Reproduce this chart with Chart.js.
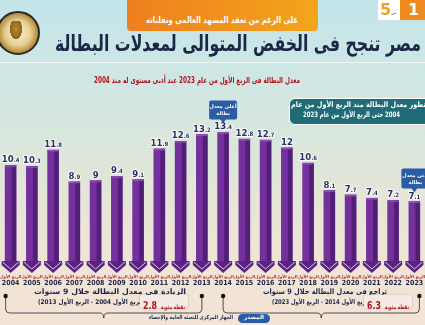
<!DOCTYPE html>
<html>
<head>
<meta charset="utf-8">
<script src="https://cdn.jsdelivr.net/npm/chart.js@4.4.1/dist/chart.umd.min.js"></script>
<style>
  body { margin: 0; }
  #page {
    position: relative; width: 425px; height: 325px; overflow: hidden;
    background: linear-gradient(to bottom, #c2e5ea 0%, #cfe7e4 25%, #dde6d9 50%, #ede5d6 75%, #f4e3d5 100%);
    font-family: "DejaVu Sans", sans-serif;
  }
  #wrap { position: absolute; left: 0; top: 0; width: 425px; height: 325px; }
  .ov { position: absolute; direction: rtl; white-space: nowrap; pointer-events: none; }
  .fit { position: absolute; direction: rtl; white-space: nowrap; pointer-events: none; transform-origin: 0 0; font-weight: bold; }
</style>
</head>
<body>
<div id="page">
  <div id="wrap"><canvas id="unemploymentChart"></canvas></div>

  <!-- header -->
  <div class="ov" style="left:127px;top:0;width:191px;height:31px;background:linear-gradient(to right,#ee7f1e,#f3a51c);border-radius:0 0 4px 4px;"></div>
  <div class="fit" data-w="152" style="left:146px;top:15px;color:#fff;font-size:9px;">على الرغم من تعقد المشهد العالمى وتقلباته</div>
  <div class="ov" style="left:378px;top:0;width:22px;height:20px;background:#fff;"></div>
  <div class="ov" style="left:380px;top:0;color:#f0a21c;font-weight:bold;font-size:16px;direction:ltr;">5</div>
  <div class="ov" style="left:391px;top:10px;color:#444;font-size:4px;">من</div>
  <div class="ov" style="left:400px;top:0;width:25px;height:20px;background:#ef8a1f;"></div>
  <div class="ov" style="left:408px;top:0;color:#fff;font-weight:bold;font-size:16px;direction:ltr;">1</div>
  <div class="ov" style="left:-4px;top:11px;width:40px;height:40px;border-radius:50%;border:2px solid #2b2b2b;background:radial-gradient(circle,#f7eed6 0%,#e6cf92 45%,#b28a3c 70%,#3a3a3a 72%,#3a3a3a 100%);"></div>
  <div class="ov" style="left:9px;top:21px;width:14px;height:20px;background:radial-gradient(ellipse at 50% 40%,#b88a2e 0%,#8a6420 60%,rgba(0,0,0,0) 62%);"></div>

  <div class="fit" data-w="366" style="left:55px;top:31px;color:#1b2747;font-size:22px;">مصر تنجح فى الخفض المتوالى لمعدلات البطالة</div>
  <div class="ov" style="left:0;top:62px;width:425px;height:1px;background:rgba(255,255,255,0.7);"></div>
  <div class="fit" data-w="206" style="left:94px;top:75px;color:#b3141c;font-size:8.5px;">معدل البطالة فى الربع الأول من عام 2023 عند أدنى مستوى له منذ 2004</div>

  <!-- info box -->
  <div class="ov" style="left:289px;top:98px;width:145px;height:25px;background:#1f6b76;border:1.5px solid #fff;border-radius:6px;"></div>
  <div class="fit" data-w="135" style="left:291px;top:100px;color:#fff;font-size:7.5px;">تطور معدل البطالة منذ الربع الأول من عام</div>
  <div class="fit" data-w="97" style="left:303px;top:110px;color:#fff;font-size:7.5px;">2004 حتى الربع الأول من عام 2023</div>

  <!-- bottom notes -->
  <div class="fit" data-w="152" style="left:34px;top:287px;color:#1b2747;font-size:7.5px;">الزيادة فى معدل البطالة خلال 9 سنوات</div>
  <div class="fit" data-w="108" style="left:38px;top:298px;color:#1b2747;font-size:6.5px;">(الربع الأول 2004 - الربع الأول 2013)</div>
  <div class="ov" style="left:140px;top:295px;width:48px;height:13px;background:#f5ebe4;border-radius:2px;box-shadow:0 0 2px rgba(0,0,0,0.25);"></div>
  <div class="fit" data-w="42" style="left:143px;top:294px;color:#b3141c;"><span style="font-size:6px">نقطة مئوية</span> <span style="font-size:11px">2.8</span></div>

  <div class="fit" data-w="124" style="left:263px;top:287px;color:#1b2747;font-size:7.5px;">تراجع فى معدل البطالة خلال 9 سنوات</div>
  <div class="fit" data-w="100" style="left:272px;top:298px;color:#1b2747;font-size:6.5px;">(الربع الأول 2014 - الربع الأول 2023)</div>
  <div class="ov" style="left:364px;top:295px;width:48px;height:13px;background:#f5ebe4;border-radius:2px;box-shadow:0 0 2px rgba(0,0,0,0.25);"></div>
  <div class="fit" data-w="42" style="left:367px;top:294px;color:#b3141c;"><span style="font-size:6px">نقطة مئوية</span> <span style="font-size:11px">6.3</span></div>

  <div class="ov" style="left:238px;top:314px;width:32px;height:9px;background:#2a5da8;border-radius:5px;"></div>
  <div class="fit" data-w="20" style="left:244px;top:314px;color:#fff;font-size:5.5px;">المصدر</div>
  <div class="fit" data-w="84" style="left:149px;top:314px;color:#1b2747;font-size:5.5px;">الجهاز المركزى للتعبئة العامة والإحصاء</div>
</div>

<script>
const years = ['2004', '2005', '2006', '2007', '2008', '2009', '2010', '2011', '2012', '2013',
               '2014', '2015', '2016', '2017', '2018', '2019', '2020', '2021', '2022', '2023'];
const quarterLabel = 'الربع الأول';
const rates = [10.4, 10.3, 11.8, 8.9, 9, 9.4, 9.1, 11.9, 12.6, 13.2,
               13.4, 12.8, 12.7, 12, 10.6, 8.1, 7.7, 7.4, 7.2, 7.1];
const highestIndex = 10;   // 2014
const lowestIndex = 19;    // 2023

// squeeze each overlay text to the width it has in the picture
document.querySelectorAll('.fit').forEach(el => {
    const w = el.getBoundingClientRect().width;
    el.style.transform = 'scaleX(' + (Number(el.dataset.w) / w) + ')';
});

// 3d-ish bar faces, bottom chevrons, value labels, x labels, callouts, brackets
const decorPlugin = {
    id: 'decor',
    afterDatasetsDraw(chart) {
        const ctx = chart.ctx;
        const bars = chart.getDatasetMeta(0).data;
        const bottom = chart.chartArea.bottom;
        ctx.save();
        bars.forEach((bar, i) => {
            const x = bar.x, w = bar.width, top = bar.y;
            // darker right face
            ctx.fillStyle = '#521f76';
            ctx.fillRect(x + 1, top, w / 2 - 1, bottom - top);
            // top cap
            ctx.fillStyle = '#8c4db5';
            ctx.fillRect(x - w / 2, top, w, 1.5);
            // chevron foot
            ctx.fillStyle = '#5a2382';
            ctx.beginPath();
            ctx.moveTo(x - 9, bottom - 3);
            ctx.lineTo(x + 9, bottom - 3);
            ctx.lineTo(x + 9, bottom + 1);
            ctx.lineTo(x, bottom + 9);
            ctx.lineTo(x - 9, bottom + 1);
            ctx.closePath();
            ctx.fill();
            ctx.strokeStyle = '#d9c8ea';
            ctx.lineWidth = 1;
            ctx.beginPath();
            ctx.moveTo(x - 8, bottom - 2);
            ctx.lineTo(x, bottom + 5);
            ctx.lineTo(x + 8, bottom - 2);
            ctx.stroke();

            // value label: big integer, small decimal
            const v = rates[i];
            const intPart = String(Math.floor(v));
            const dec = (v % 1 === 0) ? '' : '.' + String(v).split('.')[1];
            ctx.font = 'bold 9.5px "DejaVu Sans Condensed", sans-serif';
            const wi = ctx.measureText(intPart).width;
            ctx.font = 'bold 6px "DejaVu Sans Condensed", sans-serif';
            const wd = ctx.measureText(dec).width;
            const lx = x - (wi + wd) / 2;
            const ly = top - 3;
            ctx.textBaseline = 'alphabetic';
            ctx.textAlign = 'left';
            ctx.lineJoin = 'round';
            ctx.strokeStyle = 'rgba(255,255,255,0.9)';
            ctx.lineWidth = 2;
            ctx.fillStyle = '#2c2d5c';
            ctx.font = 'bold 9.5px "DejaVu Sans Condensed", sans-serif';
            ctx.strokeText(intPart, lx, ly);
            ctx.fillText(intPart, lx, ly);
            ctx.font = 'bold 6px "DejaVu Sans Condensed", sans-serif';
            ctx.strokeText(dec, lx + wi, ly);
            ctx.fillText(dec, lx + wi, ly);

            // x labels: small red quarter line, then the year
            ctx.textAlign = 'center';
            ctx.fillStyle = '#c0262d';
            ctx.font = 'bold 4px "DejaVu Sans", sans-serif';
            ctx.direction = 'rtl';
            ctx.fillText(quarterLabel, x, bottom + 14);
            ctx.direction = 'ltr';
            ctx.fillStyle = '#1b2747';
            ctx.font = 'bold 7px "DejaVu Sans Condensed", sans-serif';
            ctx.fillText(years[i], x, bottom + 21);
        });

        // callouts for highest / lowest
        const callout = (bar, lines, bx, by, bw, bh) => {
            ctx.fillStyle = '#2b5ca6';
            ctx.beginPath();
            ctx.roundRect(bx, by, bw, bh, 2);
            ctx.fill();
            ctx.beginPath();
            ctx.moveTo(bar.x - 3, by + bh - 0.5);
            ctx.lineTo(bar.x + 3, by + bh - 0.5);
            ctx.lineTo(bar.x, by + bh + 4);
            ctx.closePath();
            ctx.fill();
            ctx.fillStyle = '#ffffff';
            ctx.textAlign = 'center';
            ctx.font = 'bold 5px "DejaVu Sans", sans-serif';
            ctx.direction = 'rtl';
            lines.forEach((t, k) => ctx.fillText(t, bx + bw / 2, by + 8 + k * 7));
            ctx.direction = 'ltr';
        };
        const hi = bars[highestIndex];
        callout(hi, ['أعلى معدل', 'بطالة'], hi.x - 14, hi.y - 32, 28, 19);
        const lo = bars[lowestIndex];
        callout(lo, ['أدنى معدل', 'بطالة'], lo.x - 13, lo.y - 33, 28, 20);

        // brackets under the two periods
        const bracket = (x1, x2) => {
            const y0 = 296, yl = 313, mid = (x1 + x2) / 2;
            ctx.strokeStyle = '#1b2747';
            ctx.lineWidth = 0.8;
            ctx.beginPath();
            ctx.moveTo(x1, y0);
            ctx.lineTo(x1, yl - 4);
            ctx.quadraticCurveTo(x1, yl, x1 + 4, yl);
            ctx.lineTo(mid - 4, yl);
            ctx.quadraticCurveTo(mid, yl, mid, yl + 5);
            ctx.quadraticCurveTo(mid, yl, mid + 4, yl);
            ctx.lineTo(x2 - 4, yl);
            ctx.quadraticCurveTo(x2, yl, x2, yl - 4);
            ctx.lineTo(x2, y0);
            ctx.stroke();
            ctx.fillStyle = '#111';
            [x1, x2].forEach(px => {
                ctx.beginPath();
                ctx.arc(px, y0, 2.2, 0, Math.PI * 2);
                ctx.fill();
            });
        };
        bracket(bars[0].x - 5, bars[9].x);
        bracket(bars[10].x, bars[19].x + 5);
        ctx.restore();
    }
};

const chartCtx = document.getElementById('unemploymentChart').getContext('2d');
new Chart(chartCtx, {
    type: 'bar',
    data: {
        labels: years,
        datasets: [{
            label: 'معدل البطالة',
            data: rates,
            backgroundColor: '#74319d',
            borderWidth: 0,
            barThickness: 11
        }]
    },
    options: {
        responsive: true,
        maintainAspectRatio: false,
        animation: false,
        layout: { padding: { top: 93, bottom: 61, left: 0, right: 0 } },
        scales: {
            x: { display: false },
            y: { display: false, min: 1.4, max: 17 }
        },
        plugins: {
            legend: { display: false },
            tooltip: { enabled: false }
        }
    },
    plugins: [decorPlugin]
});
</script>
</body>
</html>
